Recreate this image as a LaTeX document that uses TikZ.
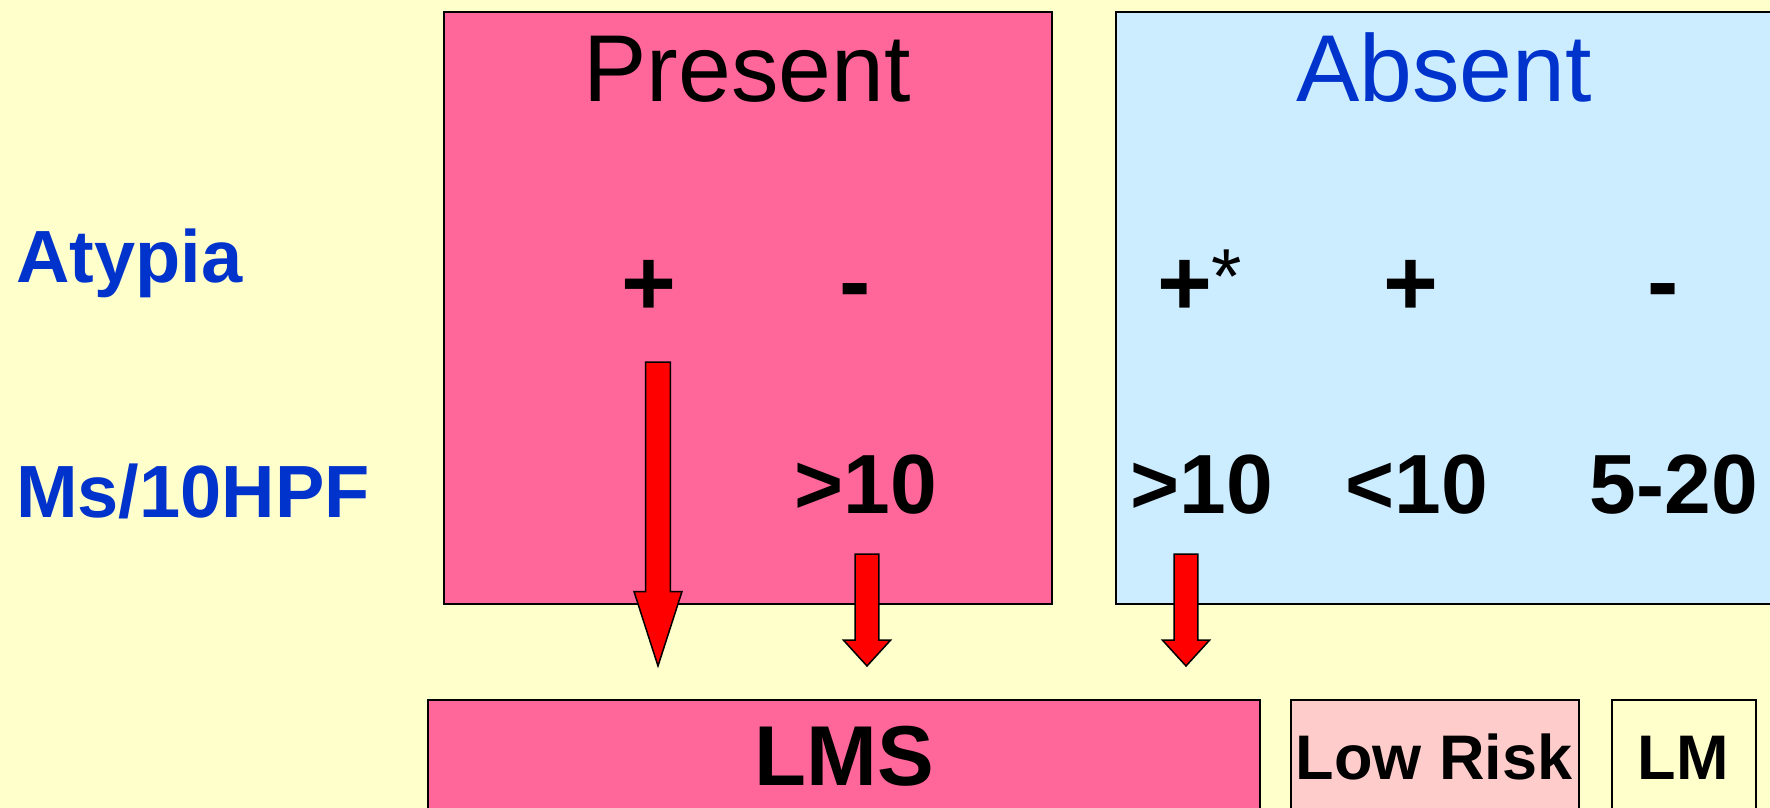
\documentclass[tikz,border=0pt]{standalone}
\usepackage{fontspec}
\setmainfont{Liberation Sans}
\definecolor{bgyellow}{HTML}{FFFFCC}
\definecolor{pinkbox}{HTML}{FF6699}
\definecolor{bluebox}{HTML}{CCECFF}
\definecolor{lowrisk}{HTML}{FFCCCC}
\definecolor{bluetext}{HTML}{0033CC}
\definecolor{arrowred}{HTML}{FF0000}
\tikzset{
  panel/.style={draw=black, line width=2pt, anchor=north west, inner sep=0pt},
  txt/.style={inner sep=0pt, anchor=base},
  headtxt/.style={txt, font=\fontsize{95}{95}\selectfont},
  rowlabel/.style={inner sep=0pt, anchor=base west, text=bluetext, font=\bfseries\fontsize{74}{74}\selectfont},
  sign/.style={txt, font=\bfseries\fontsize{94}{94}\selectfont},
  count/.style={txt, font=\bfseries\fontsize{84}{84}\selectfont},
  result/.style={txt, font=\bfseries\fontsize{63}{63}\selectfont},
  blockarrow/.style={draw=black, line width=1.5pt, fill=arrowred, line join=miter},
}
\begin{document}
\begin{tikzpicture}[x=1pt, y=-1pt]
\useasboundingbox (0,0) rectangle (1770,808);
\clip (0,0) rectangle (1770,808);
\fill[bgyellow] (0,0) rectangle (1770,808);

% panels
\node[panel, fill=pinkbox, minimum width=608.5pt, minimum height=591.5pt] (present) at (442.5,11.3) {};
\node[panel, fill=bluebox, minimum width=700pt, minimum height=591.5pt] (absent) at (1115,11.3) {};

% headings
\node[headtxt] (presentlbl) at (747,102) {Present};
\node[headtxt, text=bluetext] (absentlbl) at (1444,102) {Absent};

% row labels
\node[rowlabel] (atypia) at (16,282) {Atypia};
\node[rowlabel] (mitoses) at (16,517) {Ms/10HPF};

% atypia signs
\node[sign] (p1) at (649,315) {+};
\node[sign] (p2) at (855,313) {-};
\node[sign] (a1) at (1185,315) {+};
\node[inner sep=0pt, anchor=base west, font=\fontsize{78}{78}\selectfont] (a1star) at (1211,303) {*};
\node[sign] (a2) at (1411,315) {+};
\node[sign] (a3) at (1663,313) {-};

% mitotic counts
\node[count] (m2) at (866,513) {>10};
\node[count] (m3) at (1202,513) {>10};
\node[count] (m4) at (1417,513) {<10};
\node[count] (m5) at (1674,513) {5-20};

% bottom result boxes
\node[panel, fill=pinkbox, minimum width=832pt, minimum height=140pt] (lmsbox) at (427,699) {};
\node[panel, fill=lowrisk, minimum width=288pt, minimum height=140pt] (lowbox) at (1290,699) {};
\node[panel, fill=bgyellow, minimum width=144pt, minimum height=140pt] (lmbox) at (1611,699) {};
\node[txt, font=\bfseries\fontsize{85}{85}\selectfont] (lms) at (844,785) {LMS};
\node[result] (low) at (1434,779) {Low Risk};
\node[result] (lm) at (1683,779) {LM};

% block arrows
\draw[blockarrow] (645.6,362) -- (670.4,362) -- (670.4,591.5) -- (682,591.5) -- (658,666) -- (634,591.5) -- (645.6,591.5) -- cycle;
\draw[blockarrow] (855.1,554) -- (878.9,554) -- (878.9,640) -- (890.7,640) -- (867,666) -- (843.3,640) -- (855.1,640) -- cycle;
\draw[blockarrow] (1174.1,554) -- (1197.9,554) -- (1197.9,640) -- (1209.7,640) -- (1186,666) -- (1162.3,640) -- (1174.1,640) -- cycle;
\end{tikzpicture}
\end{document}
